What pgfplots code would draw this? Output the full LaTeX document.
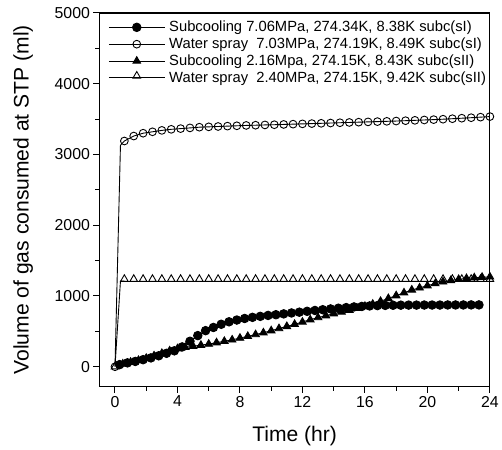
\documentclass[border=0pt]{standalone}
\usepackage{pgfplots}
\pgfplotsset{compat=1.18}
\usepackage{fontspec}
\setmainfont{Liberation Sans}
\begin{document}
\begin{tikzpicture}
\begin{axis}[
  scale only axis,
  width=393bp, height=376bp,
  xmin=-1, xmax=24, ymin=-280, ymax=5000,
  xtick={0,4,...,24}, minor xtick={2,6,...,22},
  ytick={0,1000,...,5000}, minor ytick={500,1500,...,4500},
  tick pos=left, tick align=outside,
  major tick length=6bp, minor tick length=4bp,
  every tick/.style={black, line width=1bp},
  axis line style={line width=1.2bp},
  /pgf/number format/assume math mode=true,
  /pgf/number format/1000 sep={},
  ticklabel style={font=\fontsize{16}{18}\selectfont},
  xlabel={Time (hr)}, ylabel={Volume of gas consumed at STP (ml)},
  label style={font=\fontsize{21.3}{23}\selectfont},
  xlabel style={yshift=-12bp},
  ylabel style={yshift=15bp},
  legend style={at={(0,1)}, anchor=north west, xshift=6bp, yshift=-5bp,
    draw=none, fill=none, font=\fontsize{14.9}{17}\selectfont,
    row sep=2.3bp, nodes={inner sep=1.2bp},
    /tikz/every odd column/.style={column sep=3bp}},
  legend cell align=left,
  legend image code/.code={\draw[mark repeat=2,mark phase=2] plot coordinates {(0bp,0bp) (28bp,0bp) (56bp,0bp)};},
  every axis plot/.append style={black, line width=0.9bp},
]
% Subcooling sI
\addplot[mark=*, mark size=4.3bp, mark options={solid}] coordinates {
(0.3,30)(0.8,55)(1.3,75)(1.8,100)(2.3,125)(2.8,155)(3.3,190)(3.8,225)(4.3,280)(4.8,360)
(5.3,440)(5.8,510)(6.3,555)(6.8,600)(7.3,635)(7.8,660)(8.3,682)(8.8,698)(9.3,712)(9.8,725)
(10.3,735)(10.8,747)(11.3,760)(11.8,771)(12.3,783)(12.8,795)(13.3,806)(13.8,817)(14.3,827)(14.8,836)
(15.3,845)(15.8,852)(16.3,859)(16.8,864)(17.3,867)(17.8,869)(18.3,870)(18.8,871)(19.3,871)(19.8,872)
(20.3,872)(20.8,872)(21.3,873)(21.8,873)(22.3,873)(22.8,874)(23.3,874)};
\addlegendentry{Subcooling 7.06MPa, 274.34K, 8.38K subc(sI)}
% Water spray sI
\addplot[mark=o, mark size=3.9bp, mark options={fill=white}] coordinates {
(0.6,3190)(1.2,3260)(1.8,3300)(2.4,3320)(3.0,3340)(3.6,3355)(4.2,3365)(4.8,3375)(5.4,3385)(6.0,3390)
(6.6,3395)(7.2,3400)(7.8,3405)(8.4,3410)(9.0,3413)(9.6,3417)(10.2,3420)(10.8,3424)(11.4,3428)(12.0,3432)
(12.6,3436)(13.2,3440)(13.8,3444)(14.4,3448)(15.0,3452)(15.6,3456)(16.2,3460)(16.8,3464)(17.4,3468)(18.0,3472)
(18.6,3477)(19.2,3482)(19.8,3487)(20.4,3492)(21.0,3498)(21.6,3505)(22.2,3512)(22.8,3519)(23.4,3527)(24.0,3535)};
\addlegendentry{Water spray\ \ 7.03MPa, 274.19K, 8.49K subc(sI)}
% Subcooling sII
\addplot[mark=triangle*, mark size=4.4bp] coordinates {
(0.5,40)(1.0,65)(1.5,90)(2.0,120)(2.5,155)(3.0,190)(3.5,225)(4.0,255)(4.5,275)(5.0,290)
(5.5,305)(6.0,320)(6.5,340)(7.0,360)(7.5,380)(8.0,405)(8.5,430)(9.0,455)(9.5,480)(10.0,510)
(10.5,540)(11.0,570)(11.5,600)(12.0,632)(12.5,665)(13.0,695)(13.5,722)(14.0,750)(14.5,775)(15.0,800)
(15.5,828)(16.0,855)(16.5,885)(17.0,925)(17.5,965)(18.0,1005)(18.5,1045)(19.0,1085)(19.5,1115)(20.0,1145)
(20.5,1175)(21.0,1200)(21.5,1220)(22.0,1235)(22.5,1248)(23.0,1258)(23.5,1265)(24.0,1270)};
\addlegendentry{Subcooling 2.16Mpa, 274.15K, 8.43K subc(sII)}
% Water spray sII
\addplot[mark=triangle, mark size=4.4bp, mark options={fill=white, yshift=2bp}] coordinates {
(0.6,1210)(1.2,1210)(1.8,1210)(2.4,1210)(3.0,1210)(3.6,1210)(4.2,1210)(4.8,1210)(5.4,1210)(6.0,1210)
(6.6,1210)(7.2,1210)(7.8,1210)(8.4,1210)(9.0,1210)(9.6,1210)(10.2,1210)(10.8,1210)(11.4,1210)(12.0,1210)
(12.6,1210)(13.2,1210)(13.8,1210)(14.4,1210)(15.0,1210)(15.6,1210)(16.2,1210)(16.8,1210)(17.4,1210)(18.0,1210)
(18.6,1210)(19.2,1210)(19.8,1210)(20.4,1210)(21.0,1210)(21.6,1210)(22.2,1210)(22.8,1210)(23.4,1210)(24.0,1210)};
\addlegendentry{Water spray\ \ 2.40MPa, 274.15K, 9.42K subc(sII)}
% initial jumps
\addplot[no marks, forget plot] coordinates {(0,0)(0.35,3130)(0.6,3190)};
\addplot[no marks, forget plot] coordinates {(0,0)(0.35,1210)(0.6,1210)};
\addplot[only marks, mark=o, mark size=3.9bp, mark options={fill=white}, forget plot] coordinates {(0,0)};
\addplot[only marks, mark=triangle, mark size=4.4bp, mark options={fill=white}, forget plot] coordinates {(0,0)};
\end{axis}
\path (current axis.south west) ++(-100bp,-63bp) rectangle ++(502bp,452bp);
\end{tikzpicture}
\end{document}
